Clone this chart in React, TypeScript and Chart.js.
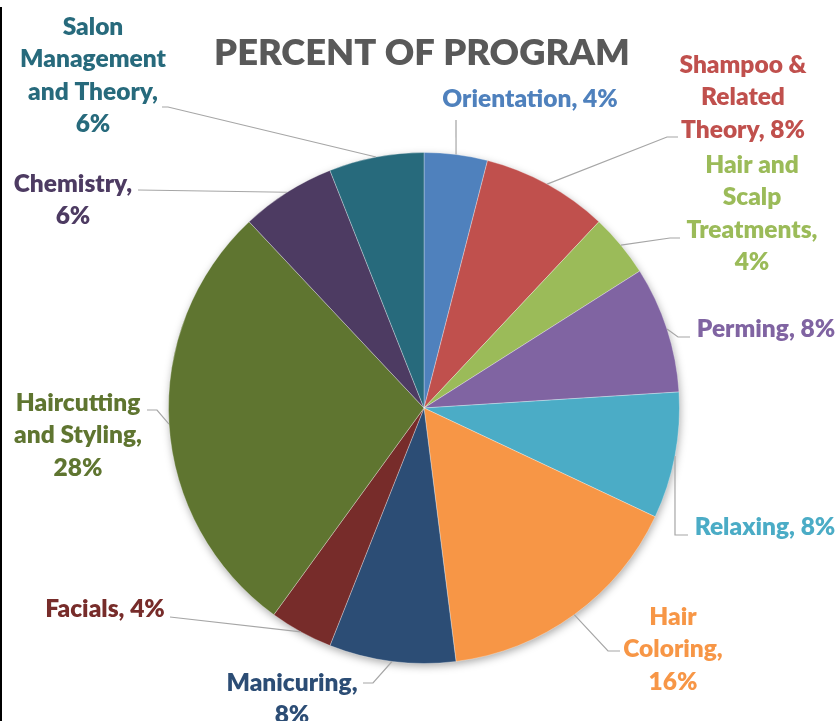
import React, { useEffect, useRef } from "react";
import { Chart, ArcElement, PieController } from "chart.js";

Chart.register(ArcElement, PieController);

const categories = [
  "Orientation",
  "Shampoo & Related Theory",
  "Hair and Scalp Treatments",
  "Perming",
  "Relaxing",
  "Hair Coloring",
  "Manicuring",
  "Facials",
  "Haircutting and Styling",
  "Chemistry",
  "Salon Management and Theory",
];
const percents = [4, 8, 4, 8, 8, 16, 8, 4, 28, 6, 6];
const sliceColors = [
  "#4F81BD",
  "#C0504D",
  "#9BBB59",
  "#8064A2",
  "#4BACC6",
  "#F79646",
  "#2C4D75",
  "#772C2A",
  "#5F7530",
  "#4D3B62",
  "#276A7C",
];
const labelLines = [
  ["Orientation, 4%"],
  ["Shampoo &", "Related", "Theory, 8%"],
  ["Hair and", "Scalp", "Treatments,", "4%"],
  ["Perming, 8%"],
  ["Relaxing, 8%"],
  ["Hair", "Coloring,", "16%"],
  ["Manicuring,", "8%"],
  ["Facials, 4%"],
  ["Haircutting", "and Styling,", "28%"],
  ["Chemistry,", "6%"],
  ["Salon", "Management", "and Theory,", "6%"],
];
const chartTitle = "PERCENT OF PROGRAM";

// label placement, offsets from pie centre: [textCx, firstLineCy, endX, endY, elbowX, elbowY]
const labelLayout: (number | null)[][] = [
  [106, -309, 32, -288, null, null],
  [319, -343, 254, -271, 243, -271],
  [328, -243, 256, -170, 246, -170],
  [342, -79, 266, -71, 254, -71],
  [341, 119, 264, 127, 251, 127],
  [249, 209, 196, 243, 184, 243],
  [-132, 275, -61, 275, -51, 275],
  [-319, 201, -254, 209, null, null],
  [-346, -5, -277, 2, -267, 2],
  [-351, -224, -286, -218, null, null],
  [-331, -381, -262, -301, -256, -301],
];

const LABEL_FONT = "800 24.5px Lato, 'Open Sans', sans-serif";
const TITLE_FONT = "800 36.3px Lato, 'Open Sans', sans-serif";
const LINE_H = 32.5;

const shadowPlugin = {
  id: "pieShadow",
  beforeDatasetsDraw(chart: any) {
    const arc = chart.getDatasetMeta(0).data[0];
    if (!arc) return;
    const { x, y, outerRadius } = arc.getProps(["x", "y", "outerRadius"], true);
    const ctx = chart.ctx;
    ctx.save();
    ctx.shadowColor = "rgba(0,0,0,0.35)";
    ctx.shadowBlur = 9;
    ctx.shadowOffsetX = 1;
    ctx.shadowOffsetY = 3;
    ctx.fillStyle = "#ffffff";
    ctx.beginPath();
    ctx.arc(x, y, outerRadius - 0.5, 0, Math.PI * 2);
    ctx.fill();
    ctx.restore();
  },
};

const labelPlugin = {
  id: "pieLabels",
  afterDatasetsDraw(chart: any) {
    const ctx = chart.ctx;
    const meta = chart.getDatasetMeta(0);
    ctx.save();
    // left frame line
    ctx.fillStyle = "#000000";
    ctx.fillRect(0, 7, 2, chart.height - 7);
    // title
    ctx.fillStyle = "#595959";
    ctx.font = TITLE_FONT;
    ctx.textAlign = "center";
    ctx.textBaseline = "middle";
    ctx.fillText(chartTitle, 422, 53);

    meta.data.forEach((el: any, i: number) => {
      const { x, y, startAngle, endAngle, outerRadius } = el.getProps(
        ["x", "y", "startAngle", "endAngle", "outerRadius"],
        true
      );
      const mid = (startAngle + endAngle) / 2;
      const ax = x + Math.cos(mid) * outerRadius;
      const ay = y + Math.sin(mid) * outerRadius;
      const L = labelLayout[i];
      ctx.strokeStyle = "#A6A6A6";
      ctx.lineWidth = 1.2;
      ctx.beginPath();
      ctx.moveTo(ax, ay);
      if (L[4] !== null) ctx.lineTo(x + (L[4] as number), y + (L[5] as number));
      ctx.lineTo(x + (L[2] as number), y + (L[3] as number));
      ctx.stroke();

      ctx.fillStyle = sliceColors[i];
      ctx.font = LABEL_FONT;
      ctx.textAlign = "center";
      ctx.textBaseline = "middle";
      labelLines[i].forEach((line, k) => {
        ctx.fillText(line, x + (L[0] as number), y + (L[1] as number) + k * LINE_H);
      });
    });
    ctx.restore();
  },
};

export default function App() {
  const ref = useRef<HTMLCanvasElement | null>(null);
  useEffect(() => {
    document.body.style.margin = "0";
    const canvas = ref.current;
    if (!canvas) return;
    const chart = new Chart(canvas, {
      type: "pie",
      data: {
        labels: categories,
        datasets: [
          {
            data: percents,
            backgroundColor: sliceColors,
            borderColor: "rgba(255,255,255,0.3)",
            borderWidth: 1,
          },
        ],
      },
      options: {
        responsive: false,
        animation: false,
        layout: { padding: { left: 168, right: 155, top: 152, bottom: 57 } },
        plugins: {
          legend: { display: false },
          tooltip: { enabled: false },
        },
      },
      plugins: [shadowPlugin, labelPlugin],
    });
    return () => chart.destroy();
  }, []);
  return (
    <div style={{ width: 835, height: 721, background: "#fff" }}>
      <canvas ref={ref} width={835} height={721} style={{ display: "block" }} />
    </div>
  );
}
